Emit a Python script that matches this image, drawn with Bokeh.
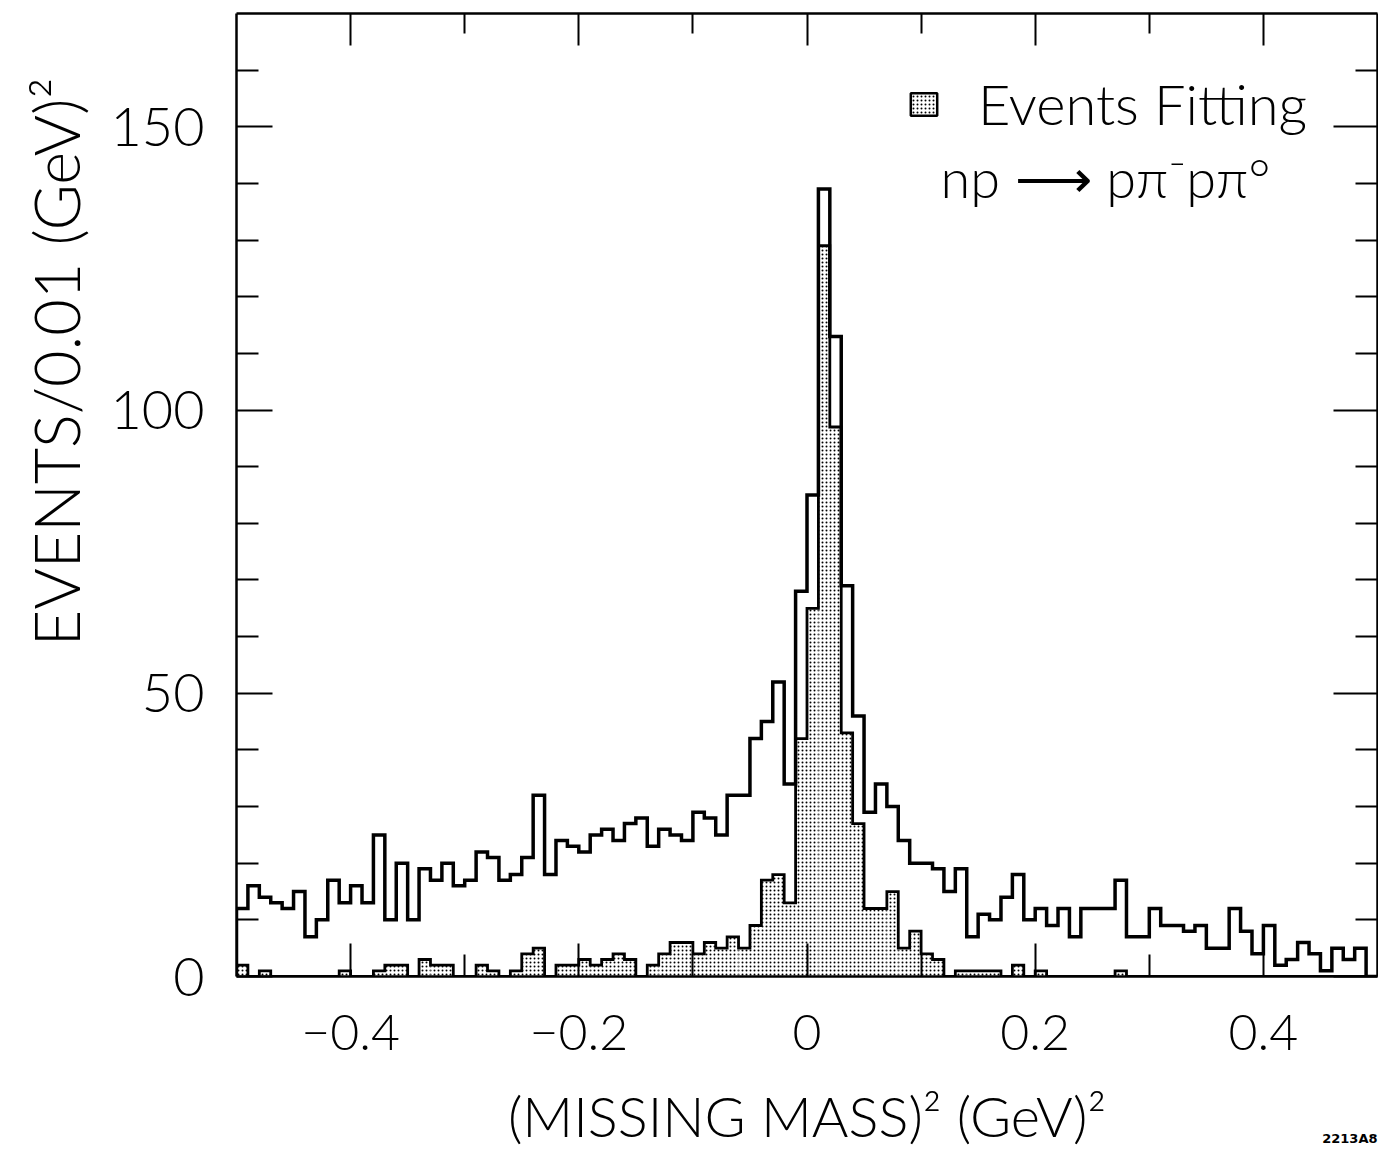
import numpy as np
from bokeh.plotting import figure
from bokeh.models import (Range1d, LinearAxis, FixedTicker, Label, Legend, LegendItem,
                          CustomJSTickFormatter, PrintfTickFormatter, Title)
from bokeh.embed import file_html
from bokeh.resources import INLINE

# ---------------- data ----------------
BIN_START = -0.50          # (GeV)^2, left edge of first bin
BIN_WIDTH = 0.01           # (GeV)^2 per bin

# all events per 0.01 (GeV)^2, bins from -0.50 to +0.50
all_events = [
    12, 16, 14, 13, 12, 15, 7, 10, 17, 13,
    16, 13, 25, 10, 20, 10, 19, 17, 20, 16,
    17, 22, 21, 17, 18, 21, 32, 18, 24, 23,
    22, 25, 26, 24, 27, 28, 23, 26, 25, 24,
    29, 28, 25, 32, 32, 42, 45, 52, 34, 68,
    85, 139, 113, 69, 46, 29, 34, 30, 24, 20,
    20, 19, 15, 19, 7, 11, 10, 14, 18, 10,
    12, 9, 12, 7, 12, 12, 12, 17, 7, 7,
    12, 9, 9, 8, 9, 5, 5, 12, 8, 4,
    9, 2, 3, 6, 4, 1, 5, 3, 5, 0,
]

# events fitting np -> p pi- p pi0 (shaded)
fitting_events = [
    2, 0, 1, 0, 0, 0, 0, 0, 0, 1,
    0, 0, 1, 2, 2, 0, 3, 2, 2, 0,
    0, 2, 1, 0, 1, 4, 5, 0, 2, 2,
    3, 2, 3, 4, 3, 0, 2, 4, 6, 6,
    4, 6, 5, 7, 5, 9, 17, 18, 13, 42,
    65, 129, 97, 43, 27, 12, 12, 15, 5, 8,
    4, 3, 0, 1, 1, 1, 1, 0, 2, 0,
    1, 0, 0, 0, 0, 0, 0, 1, 0, 0,
    0, 0, 0, 0, 0, 0, 0, 0, 0, 0,
    0, 0, 0, 0, 0, 0, 0, 0, 0, 0,
]

x_major_ticks = [-0.4, -0.2, 0.0, 0.2, 0.4]
x_minor_ticks = [-0.3, -0.1, 0.1, 0.3]
y_major_ticks = [0, 50, 100, 150]
y_minor_ticks = [10, 20, 30, 40, 60, 70, 80, 90, 110, 120, 130, 140, 160]

legend_label = "Events Fitting"
reaction_text = "np \u27f6 p\u03c0\u207bp\u03c0\u00b0"
x_label = "(MISSING MASS)\u00b2 (GeV)\u00b2"
y_label = "EVENTS/0.01 (GeV)\u00b2"
figure_code = "2213A8"

FONT = "Lato Light"

# ---------------- derived ----------------
n = len(all_events)
edges = np.round(BIN_START + BIN_WIDTH * np.arange(n + 1), 3)


def step_xy(vals):
    v = np.asarray(vals, dtype=float)
    xs = np.concatenate([[edges[0]], np.repeat(edges, 2)[1:-1], [edges[-1]]])
    ys = np.concatenate([[0.0], np.repeat(v, 2), [0.0]])
    return xs, ys


# ---------------- figure ----------------
W, H = 1378, 1153
ML, MR, MT, MB = 236, 1, 13, 177

p = figure(width=W, height=H, output_backend="svg", toolbar_location=None,
           x_range=Range1d(-0.5, 0.5), y_range=Range1d(0, 170),
           min_border_left=ML, min_border_right=MR, min_border_top=MT, min_border_bottom=MB)
p.grid.visible = False
p.outline_line_color = None
p.background_fill_color = "white"
p.border_fill_color = "white"

HATCH = dict(fill_color="white", hatch_pattern="dot", hatch_color="black",
             hatch_scale=4, hatch_weight=2.0, hatch_alpha=1.0)

# shaded histogram (fitting events)
p.quad(left=edges[:-1], right=edges[1:], bottom=0, top=fitting_events,
       line_color=None, **HATCH)
sx_, sy_ = step_xy(fitting_events)
p.line(sx_, sy_, line_color="black", line_width=2.8, line_join="miter")

# all-events outline
ax_, ay_ = step_xy(all_events)
p.line(ax_, ay_, line_color="black", line_width=3.5, line_join="miter")

# legend swatch renderer (a single NaN quad: nothing drawn in the plot)
proxy = p.quad(left=[np.nan], right=[np.nan], bottom=[np.nan], top=[np.nan],
               line_color="black", line_width=2.5, **HATCH)

legend = Legend(items=[LegendItem(label=legend_label, renderers=[proxy])],
                location=(907 - ML, (H - MB) - 137), glyph_width=33, glyph_height=28,
                label_standoff=38, label_text_font=FONT, label_text_font_size="56px",
                label_text_color="black",
                padding=0, margin=0, spacing=0, border_line_color=None,
                background_fill_alpha=0)
p.add_layout(legend)

# ---------------- axes ----------------
def style_axis(ax, major_in, minor_in):
    ax.axis_line_color = "black"
    ax.axis_line_width = 2.5
    ax.major_tick_line_color = "black"
    ax.major_tick_line_width = 2
    ax.minor_tick_line_color = "black"
    ax.minor_tick_line_width = 2
    ax.major_tick_in = major_in
    ax.major_tick_out = 0
    ax.minor_tick_in = minor_in
    ax.minor_tick_out = 0


xb = p.xaxis[0]
xb.ticker = FixedTicker(ticks=x_major_ticks, minor_ticks=x_minor_ticks)
style_axis(xb, 33, 22)
xb.formatter = CustomJSTickFormatter(code="""
    if (Math.abs(tick) < 1e-9) return '0';
    const s = Math.abs(tick).toFixed(1);
    return tick < 0 ? '\\u2212' + s : s;
""")
xb.major_label_text_font = FONT
xb.major_label_text_font_size = "50px"
xb.major_label_text_color = "black"
xb.major_label_standoff = 38
xb.axis_label = x_label
xb.axis_label_text_font = FONT
xb.axis_label_text_font_size = "56px"
xb.axis_label_text_font_style = "normal"
xb.axis_label_text_color = "black"
xb.axis_label_standoff = 29

yl = p.yaxis[0]
yl.ticker = FixedTicker(ticks=y_major_ticks, minor_ticks=y_minor_ticks)
style_axis(yl, 36, 22)
yl.major_label_text_font = FONT
yl.major_label_text_font_size = "54px"
yl.major_label_text_color = "black"
yl.major_label_standoff = 32
yl.axis_label = None

xt = LinearAxis(ticker=FixedTicker(ticks=x_major_ticks, minor_ticks=x_minor_ticks),
                formatter=PrintfTickFormatter(format=""))
style_axis(xt, 32, 20)
xt.major_label_standoff = 0
p.add_layout(xt, "above")

yr = LinearAxis(ticker=FixedTicker(ticks=y_major_ticks, minor_ticks=y_minor_ticks),
                formatter=PrintfTickFormatter(format=""))
style_axis(yr, 44, 22)
yr.major_label_standoff = 0
p.add_layout(yr, "right")

# y-axis title, placed toward the top as in the reference
y_title = Title(text=y_label, align="right", vertical_align="middle", offset=64, standoff=28,
                text_font=FONT, text_font_size="63px", text_font_style="normal",
                text_color="black")
p.add_layout(y_title, "left")

# ---------------- texts ----------------
p.add_layout(Label(x=940 - ML, y=(H - MB) - 177, x_units="screen", y_units="screen",
                   text=reaction_text, text_font=FONT, text_font_size="54px",
                   text_align="left", text_baseline="alphabetic", text_color="black"))

code_title = Title(text=figure_code, align="right", vertical_align="top", standoff=-42,
                   text_font="DejaVu Sans", text_font_size="13px", text_font_style="bold",
                   text_color="black")
p.add_layout(code_title, "below")

open("out.html", "w").write(file_html(p, INLINE))
